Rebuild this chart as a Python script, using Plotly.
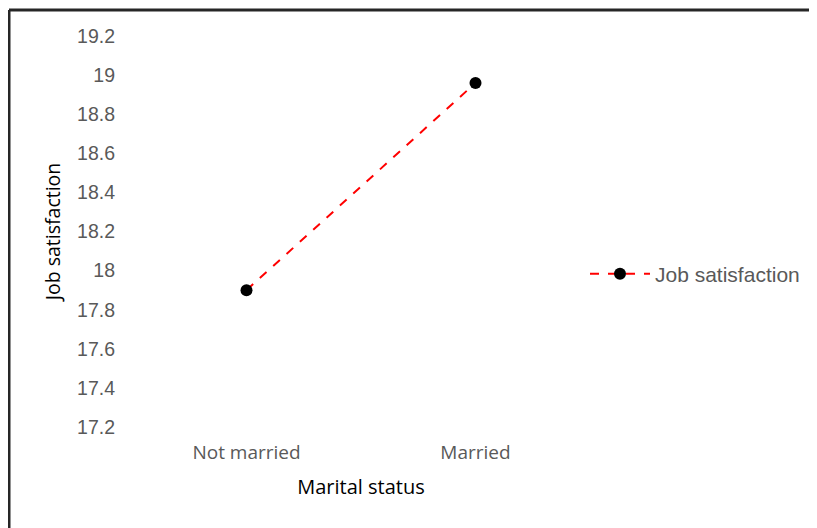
import plotly.graph_objects as go

categories = ["Not married", "Married"]
job_satisfaction = [17.90, 18.96]
y_ticks = [17.2, 17.4, 17.6, 17.8, 18.0, 18.2, 18.4, 18.6, 18.8, 19.0, 19.2]
y_tick_labels = ["17.2", "17.4", "17.6", "17.8", "18", "18.2", "18.4", "18.6", "18.8", "19", "19.2"]

# page has an 8px body margin; work in figure coordinates (reference px - 8)
OFF = 8
W, H = 817 - OFF, 528 - OFF
L, R, T, B = 132 - OFF, 590 - OFF, 36 - OFF, 427 - OFF

fig = go.Figure()
fig.add_trace(go.Scatter(
    x=categories, y=job_satisfaction, mode="lines+markers", name="Job satisfaction",
    line=dict(color="#ff0000", width=2, dash="dash"),
    marker=dict(color="#000000", size=12),
))

def px_x(p):
    return (p - OFF - L) / (R - L)

def px_y(p):
    return (B - (p - OFF)) / (B - T)

fig.update_layout(
    width=W, height=H,
    margin=dict(l=L, r=W - R, t=T, b=H - B),
    paper_bgcolor="white", plot_bgcolor="white",
    font=dict(family="Liberation Sans, Arial, sans-serif", color="#595959", size=19),
    showlegend=True,
    legend=dict(x=px_x(585), y=px_y(274), xanchor="left", yanchor="middle",
                font=dict(size=21, color="#595959"), itemwidth=60,
                bgcolor="rgba(0,0,0,0)"),
    xaxis=dict(
        type="category", range=[-0.5, 1.5], showgrid=False, zeroline=False,
        showline=False, ticks="", ticklabelstandoff=12,
        tickfont=dict(family="Open Sans, sans-serif", size=19, color="#595959"),
        title=dict(text="Marital status", standoff=15,
                   font=dict(family="Open Sans, sans-serif", size=20, color="#000000")),
    ),
    yaxis=dict(
        range=[17.2, 19.2], tickvals=y_ticks, ticktext=y_tick_labels,
        showgrid=False, zeroline=False, showline=False, ticks="",
        ticklabelstandoff=16,
        tickfont=dict(size=19.5, color="#595959"),
        title=dict(text="Job satisfaction", standoff=11,
                   font=dict(family="Open Sans, sans-serif", size=19.5, color="#000000")),
    ),
    shapes=[
        dict(type="line", xref="paper", yref="paper", x0=px_x(9), x1=px_x(817),
             y0=px_y(10), y1=px_y(10), line=dict(color="#262626", width=3)),
        dict(type="line", xref="paper", yref="paper", x0=px_x(9), x1=px_x(9),
             y0=px_y(10), y1=px_y(528), line=dict(color="#262626", width=3)),
    ],
)

fig.write_html("out.html")
